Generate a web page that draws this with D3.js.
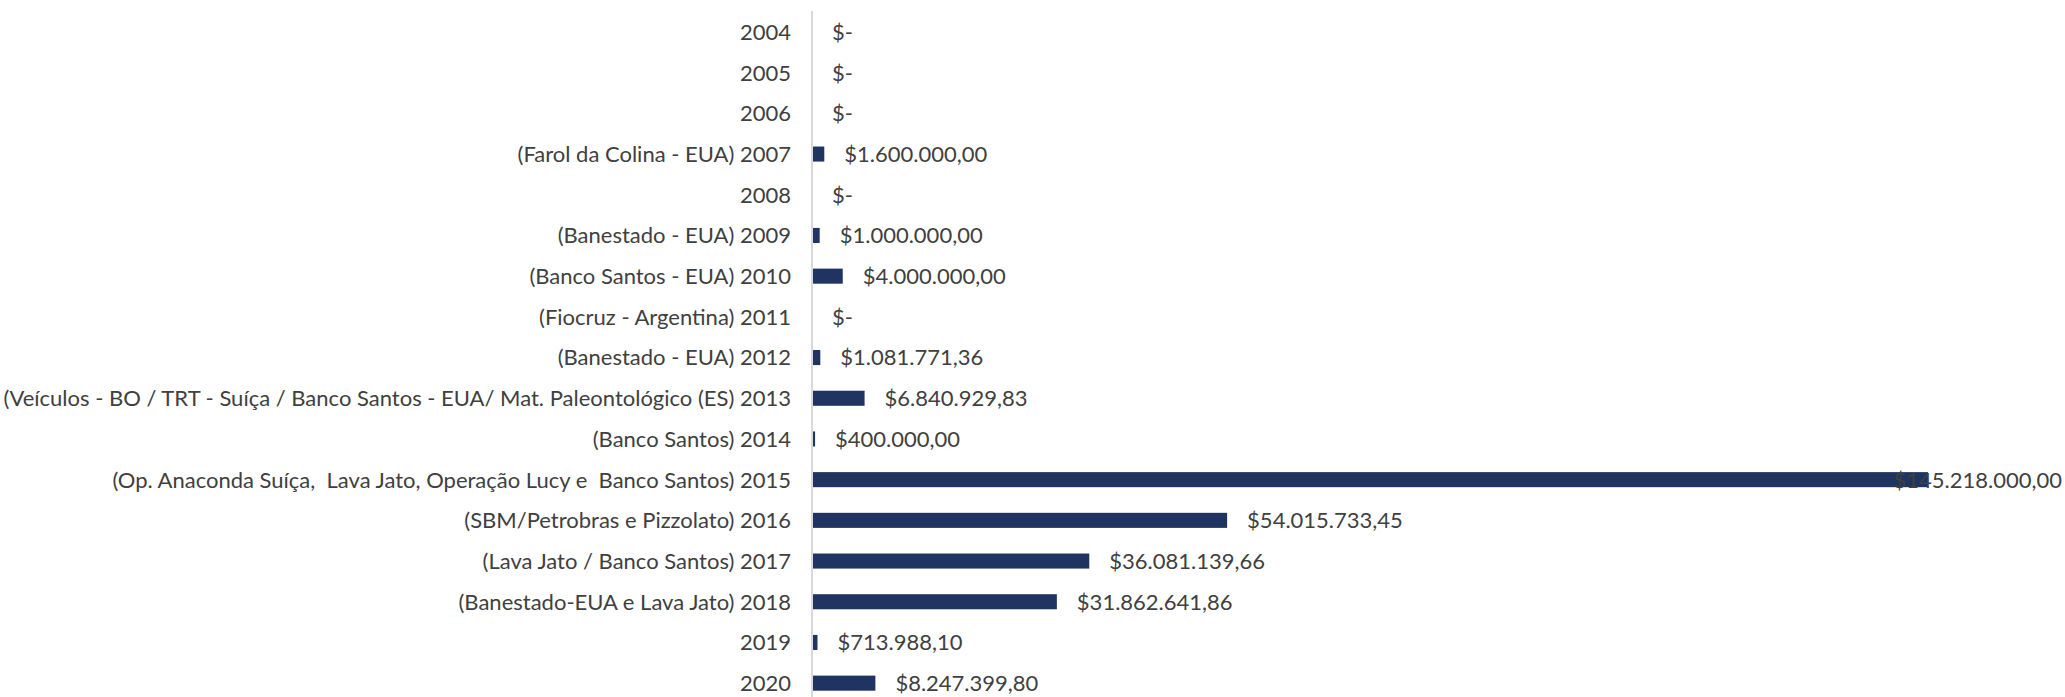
<!DOCTYPE html>
<html>
<head>
<meta charset="utf-8">
<script src="https://cdn.jsdelivr.net/npm/d3@7"></script>
<style>
  body { margin: 0; background: #fff; }
  text { font-family: 'Gill Sans MT', 'Gill Sans', Lato, sans-serif; fill: #404040; white-space: pre; }
</style>
</head>
<body>
<svg id="chart"></svg>
<script>
let years = ['2004','2005','2006','2007','2008','2009','2010','2011','2012','2013','2014','2015','2016','2017','2018','2019','2020']
let cases = ['', '', '', '(Farol da Colina - EUA)', '', '(Banestado - EUA)', '(Banco Santos - EUA)',
  '(Fiocruz - Argentina)', '(Banestado - EUA)',
  '(Veículos - BO / TRT - Suíça / Banco Santos - EUA/ Mat. Paleontológico (ES)',
  '(Banco Santos)', '(Op. Anaconda Suíça,  Lava Jato, Operação Lucy e  Banco Santos)',
  '(SBM/Petrobras e Pizzolato)', '(Lava Jato / Banco Santos)', '(Banestado-EUA e Lava Jato)', '', '']
let values = [0, 0, 0, 1600000, 0, 1000000, 4000000, 0, 1081771.36, 6840929.83, 400000,
  145218000, 54015733.45, 36081139.66, 31862641.86, 713988.10, 8247399.80]

let w = 2065
let h = 697
let svg = d3.select('#chart').attr('width', w).attr('height', h)

let labels = years.map((y, i) => cases[i] ? cases[i] + ' ' + y : y)
let data = labels.map((l, i) => ({label: l, value: values[i]}))

let x0 = 812
let x = d3.scaleLinear()
          .domain([0, d3.max(values)])
          .range([x0, 1928])
let y = d3.scaleBand()
          .domain(labels)
          .range([11.6, 703.5])
          .paddingInner(0.63)
          .paddingOuter(0.315)

let br = d3.formatLocale({decimal: ',', thousands: '.', grouping: [3], currency: ['$', '']})
let money = br.format('$,.2f')

// bars
svg.append('g').selectAll('rect')
   .data(data)
   .enter()
   .append('rect')
   .attr('x', x0)
   .attr('y', d => y(d.label))
   .attr('width', d => x(d.value) - x0)
   .attr('height', y.bandwidth())
   .attr('fill', '#1f3461')

// axis line
svg.append('line')
   .attr('x1', x0).attr('x2', x0)
   .attr('y1', 11).attr('y2', h)
   .attr('stroke', '#d9d9d9')
   .attr('stroke-width', 2)

// category labels
svg.append('g').selectAll('text')
   .data(data)
   .enter()
   .append('text')
   .attr('x', x0 - 21)
   .attr('y', d => y(d.label) + y.bandwidth() / 2)
   .attr('dy', '0.36em')
   .attr('text-anchor', 'end')
   .attr('font-size', 22)
   .text(d => d.label)

// value labels
let vals = svg.append('g').selectAll('text')
   .data(data)
   .enter()
   .append('text')
   .attr('y', d => y(d.label) + y.bandwidth() / 2)
   .attr('dy', '0.36em')
   .attr('font-size', 22)
   .text(d => d.value ? money(d.value) : '$-')

// keep labels inside the chart, like the spreadsheet does
vals.attr('x', function(d) {
  let tw = this.getComputedTextLength()
  return Math.min(x(d.value) + 20, w - 3 - tw)
})
</script>
</body>
</html>
